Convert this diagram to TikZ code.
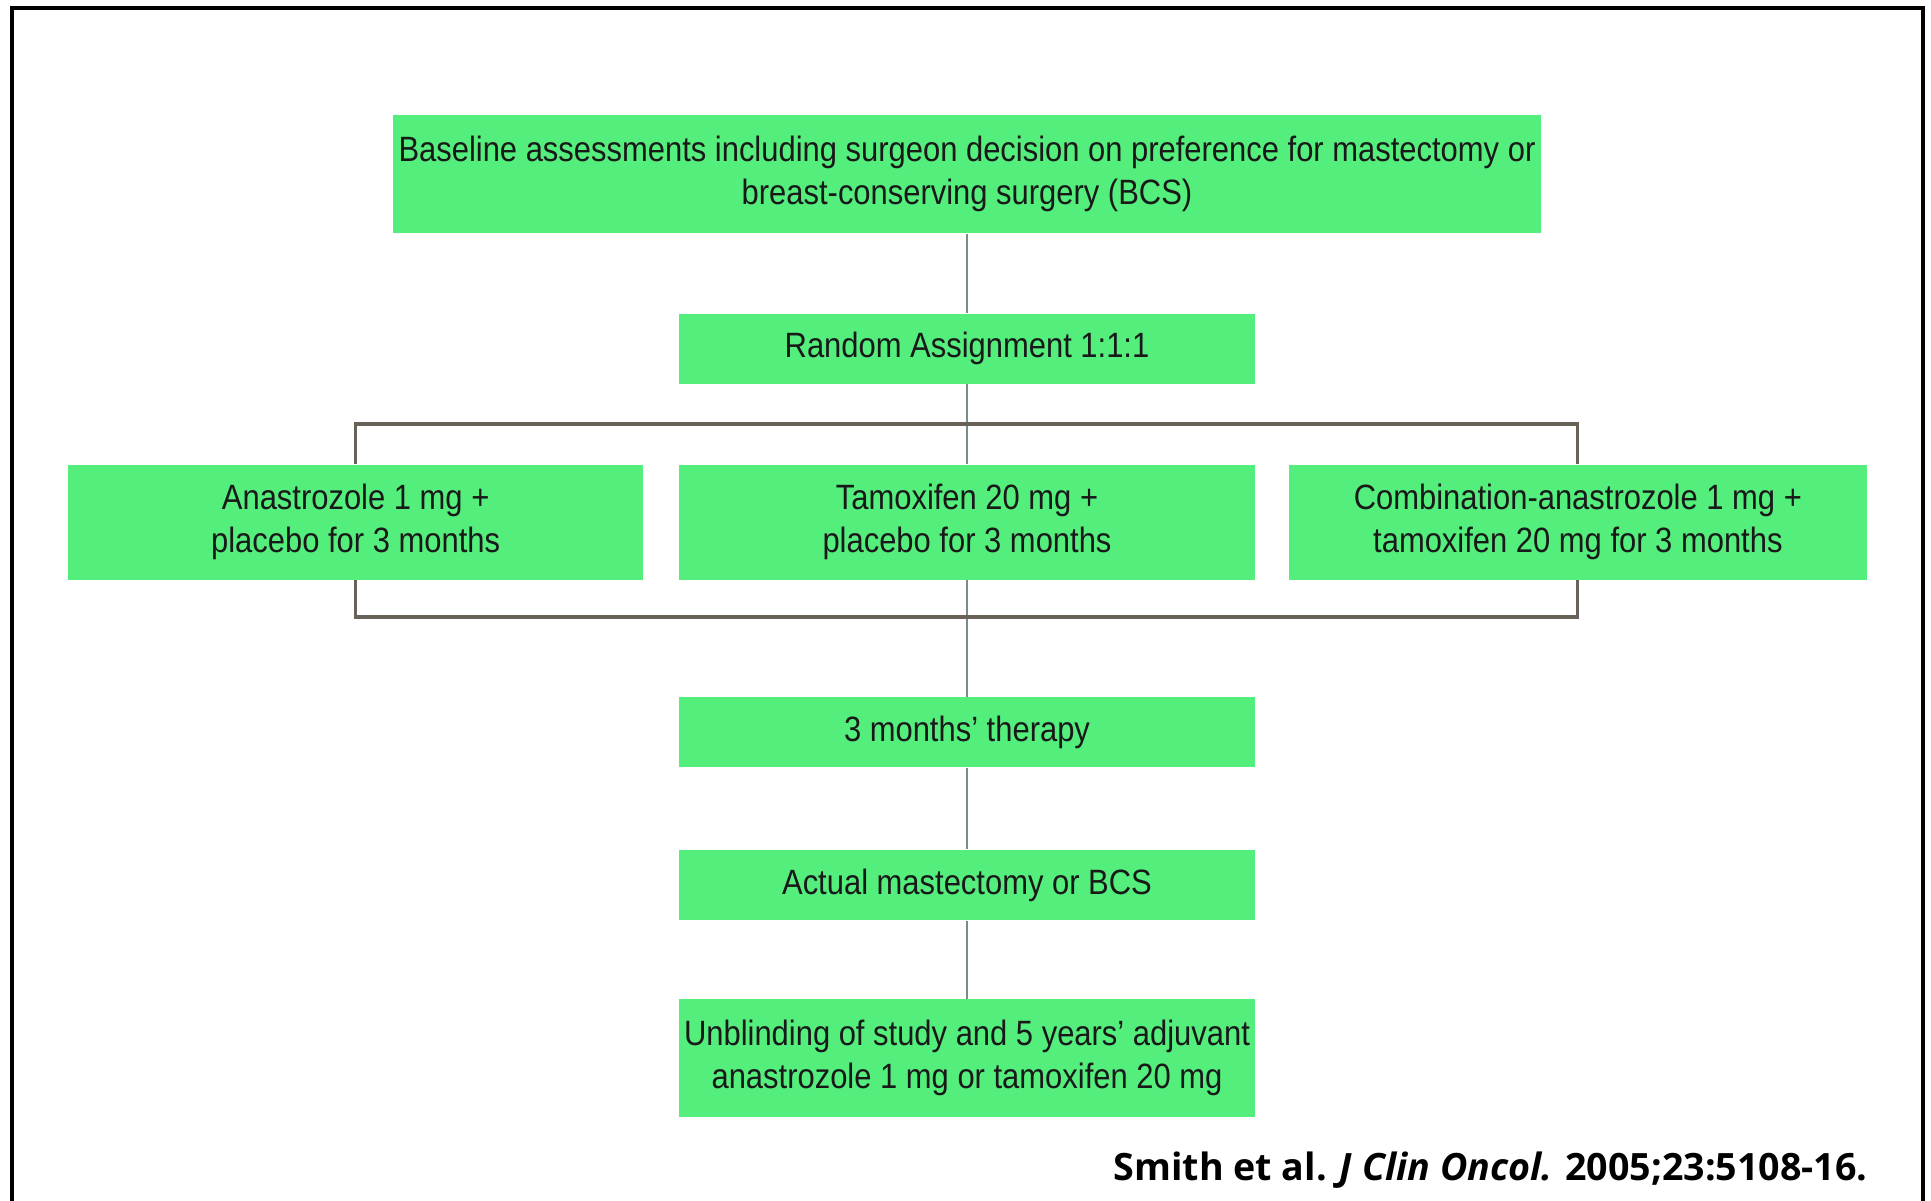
\documentclass[tikz,border=0pt]{standalone}
\usepackage{fontspec}
\setmainfont{Liberation Sans}
\newfontfamily\boxfont[FakeStretch=0.88]{Liberation Sans}
\newfontfamily\citefont{Open Sans}

\definecolor{boxgreen}{RGB}{84,238,124}
\definecolor{bartone}{RGB}{105,98,88}
\definecolor{stemtone}{RGB}{120,140,140}

\begin{document}
\begin{tikzpicture}[x=0.01cm,y=-0.01cm]
      \tikzstyle{every node}=[font=\boxfont\fontsize{10}{12.2}\selectfont]
      \tikzstyle{box}=[fill=boxgreen, text=black!90, align=center, inner sep=0pt,
                       minimum width=5.76cm, minimum height=.70cm]
      \tikzstyle{tallbox}=[box, minimum height=1.15cm]
      \tikzstyle{stem}=[draw=stemtone, line width=.4pt]
      \tikzstyle{bar}=[draw=bartone, line width=.9pt]
      %
      \useasboundingbox (0,0) rectangle (1931,1201);
      \draw [line width=1.2pt] (12,1201) -- (12,8) -- (1923,8) -- (1923,1201);
      %
      \node [box,minimum width=11.48cm,minimum height=1.18cm] (base) at (967,174)
            {Baseline assessments including surgeon decision on preference for mastectomy or\\
             breast-conserving surgery (BCS)};
      \node [box] (rand) [below of=base,node distance=1.745cm] {Random Assignment 1:1:1};
      \node [tallbox] (tam) [below of=rand,node distance=1.735cm]
            {Tamoxifen 20 mg +\\placebo for 3 months};
      \node [tallbox,minimum width=5.74cm] (ana) [left of=tam,node distance=6.11cm]
            {Anastrozole 1 mg +\\placebo for 3 months};
      \node [tallbox,minimum width=5.77cm] (comb) [right of=tam,node distance=6.105cm]
            {Combination-anastrozole 1 mg +\\tamoxifen 20 mg for 3 months};
      \node [box] (therapy) [below of=tam,node distance=2.10cm] {3 months’ therapy};
      \node [box] (actual) [below of=therapy,node distance=1.525cm] {Actual mastectomy or BCS};
      \node [box,minimum height=1.17cm] (unblind) [below of=actual,node distance=1.73cm]
            {Unblinding of study and 5 years’ adjuvant\\anastrozole 1 mg or tamoxifen 20 mg};
      %
      \coordinate (topbar) at (967,424);
      \coordinate (lowbar) at (967,617);
      \node [anchor=base east,font=\citefont\bfseries\fontsize{10.7}{13}\selectfont] (cite) at (1880,1180)
            {Smith et al. \textit{J Clin Oncol.} 2005;23:5108-16.};
      %
      \path [stem]
      (base)    edge (rand)
      (rand)    edge (tam)
      (tam)     edge (therapy)
      (therapy) edge (actual)
      (actual)  edge (unblind);
      \draw [bar] (ana.north) -- (ana.north |- topbar) -- (comb.north |- topbar) -- (comb.north);
      \draw [bar] (ana.south) -- (ana.south |- lowbar) -- (comb.south |- lowbar) -- (comb.south);
    \end{tikzpicture}
\end{document}
